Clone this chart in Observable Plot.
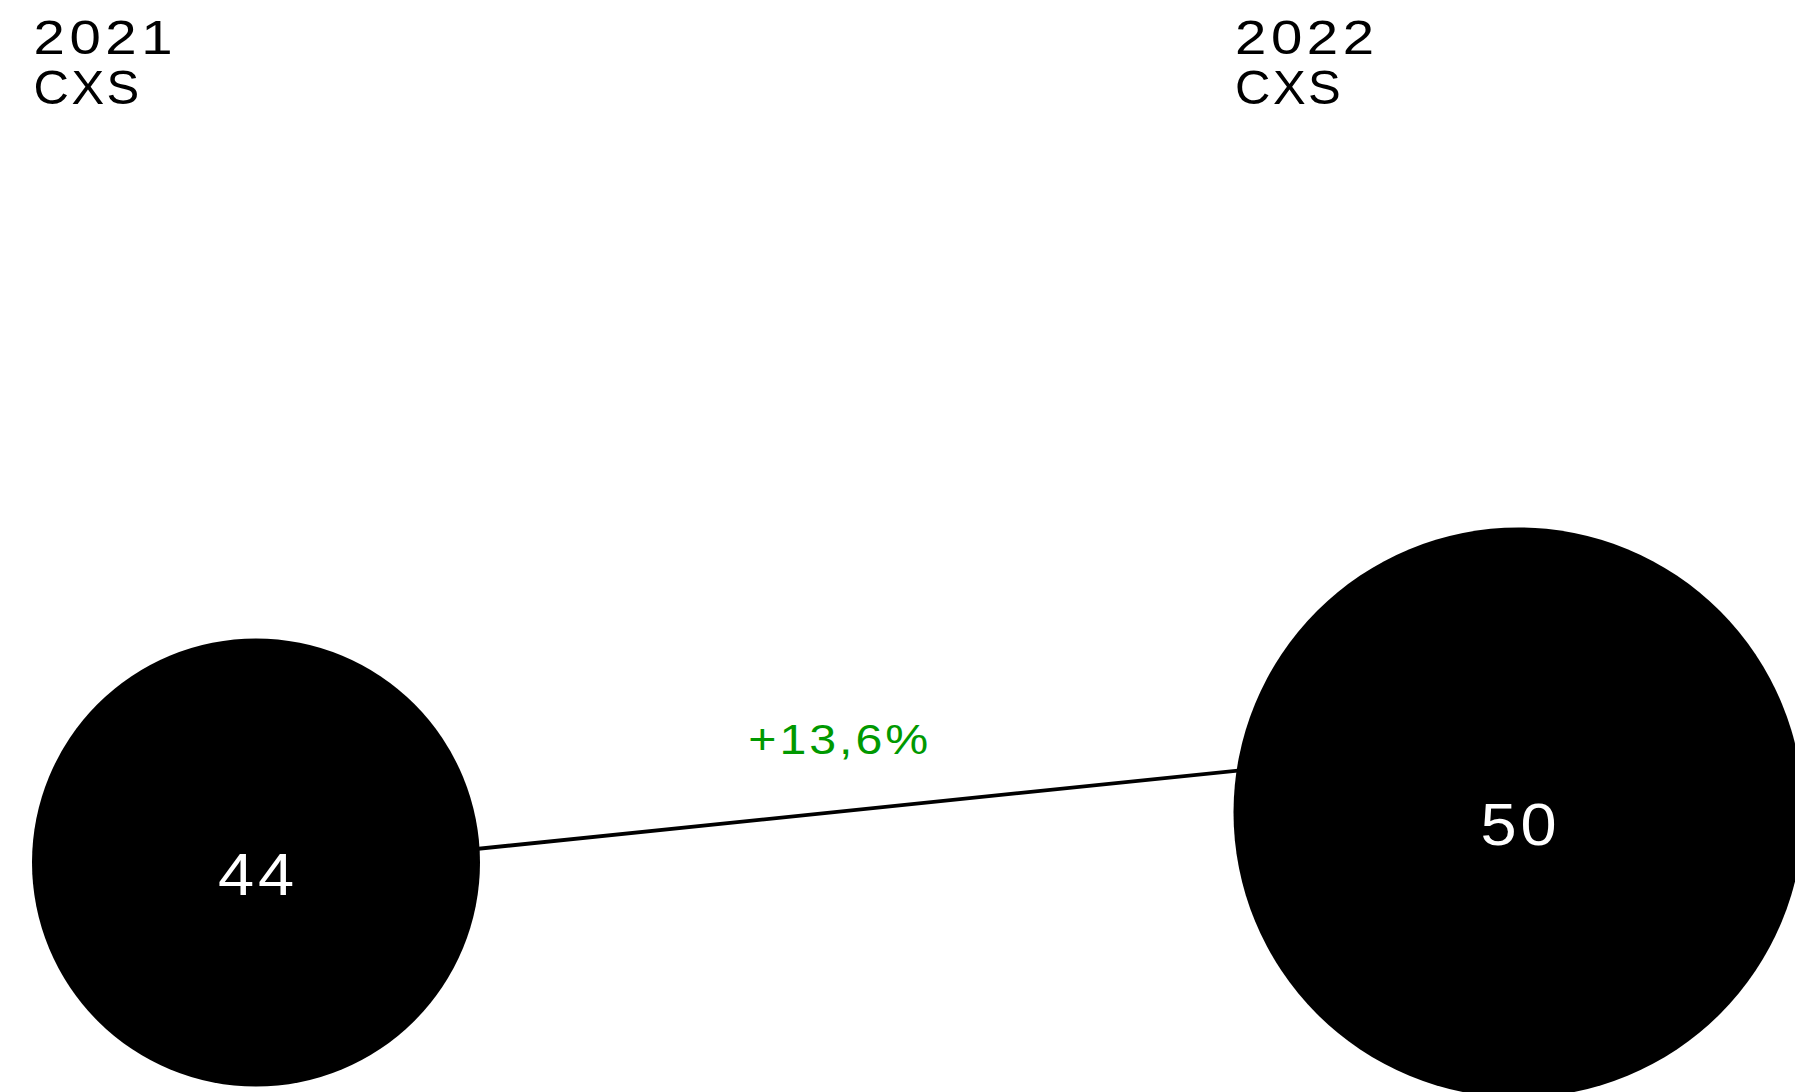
<!DOCTYPE html>
<html>
<head>
<meta charset="utf-8">
<script src="https://cdn.jsdelivr.net/npm/d3@7"></script>
<script src="https://cdn.jsdelivr.net/npm/@observablehq/plot@0.6"></script>
<style>
  html, body { margin: 0; padding: 0; background: #fff; }
  svg { display: block; }
</style>
</head>
<body>
<div id="chart"></div>
<script>
// ---- data ----
const years = [2021, 2022];
const seriesLabels = ["CXS", "CXS"];
const values = [44, 50];
// level (in value units) where the connector line passes each circle's centre column
const connectorLevels = [42.9, 58.5];

const data = years.map((year, i) => ({
  year,
  label: seriesLabels[i],
  value: values[i],
  level: connectorLevels[i]
}));

const change = (values[1] - values[0]) / values[0] * 100;
const changeText = (change >= 0 ? "+" : "") + change.toFixed(1).replace(".", ",") + "%";
const changeDatum = [{
  year: d3.mean(years),
  level: d3.mean(connectorLevels),
  text: changeText
}];

// ---- scales ----
const font = "'Liberation Sans', Arial, Helvetica, sans-serif";
const rDomain = [44, 50];
const rRange = [224, 285];
const rOf = d3.scaleLinear().domain(rDomain).range(rRange);

const topLabelMarks = data.flatMap(d => [
  Plot.text([d], {
    x: "year", frameAnchor: "top", text: dd => String(dd.year),
    textAnchor: "start", lineAnchor: "bottom", dy: 53.5, dx: -rOf(d.value) + 1.5,
    fontSize: 49, fontFamily: font, fill: "black"
  }),
  Plot.text([d], {
    x: "year", frameAnchor: "top", text: "label",
    textAnchor: "start", lineAnchor: "bottom", dy: 103.5, dx: -rOf(d.value) + 1.5,
    fontSize: 49, fontFamily: font, fill: "black"
  })
]);

const svg = Plot.plot({
  width: 1795,
  height: 1092,
  margin: 0,
  style: { background: "white", overflow: "hidden" },
  x: { type: "linear", domain: [2021, 2022], range: [255.5, 1518], axis: null },
  y: { type: "linear", domain: [44, 50], range: [862, 812], axis: null },
  r: { type: "linear", domain: rDomain, range: rRange },
  marks: [
    Plot.line(data, { x: "year", y: "level", stroke: "black", strokeWidth: 3.8 }),
    Plot.dot(data, { x: "year", y: "value", r: "value", fill: "black", stroke: null }),
    Plot.text(data, {
      x: "year", y: "value", text: d => String(d.value),
      fill: "white", fontSize: 59, fontFamily: font,
      textAnchor: "middle", lineAnchor: "bottom", dy: 32.5, dx: 2
    }),
    Plot.text(changeDatum, {
      x: "year", y: "level", text: "text",
      fill: "#009900", fontSize: 42, fontFamily: font,
      textAnchor: "middle", lineAnchor: "bottom", dy: -53, dx: -47.5
    }),
    ...topLabelMarks
  ]
});

// wide-set type of the reference: horizontal stretch + letter spacing
d3.select(svg).selectAll("text").each(function () {
  const t = this.textContent;
  let ls = 0, sx = 1;
  if (/^\d{4}$/.test(t)) { ls = 4; sx = 1.15; }
  else if (t === "CXS") { ls = 2.5; sx = 1; }
  else if (/^\d{2}$/.test(t)) { ls = 3.6; sx = 1.1; }
  else if (t.includes("%")) { ls = 2.6; sx = 1.15; }
  this.style.letterSpacing = ls + "px";
  if (sx !== 1) {
    const tr = this.getAttribute("transform") || "";
    this.setAttribute("transform", (tr + ` scale(${sx},1)`).trim());
  }
});

document.getElementById("chart").appendChild(svg);
</script>
</body>
</html>
